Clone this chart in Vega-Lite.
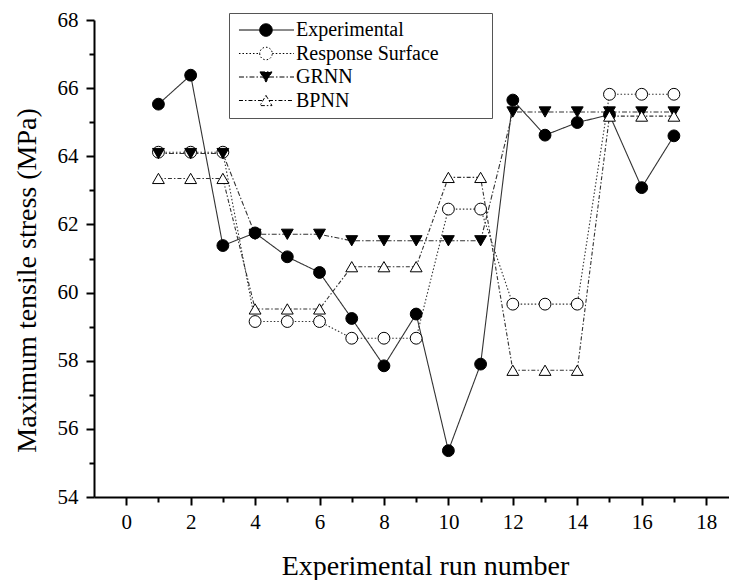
{
  "$schema": "https://vega.github.io/schema/vega-lite/v6.json",
  "width": 635,
  "height": 477,
  "autosize": {"type": "none"},
  "padding": {"left": 94, "top": 20, "right": 0, "bottom": 83},
  "background": "white",
  "config": {
    "view": {"stroke": null},
    "font": "Liberation Serif",
    "axis": {"grid": false, "domainColor": "black", "domainWidth": 2, "tickColor": "black", "labelColor": "black", "titleColor": "black", "titleFontWeight": "normal"}
  },
  "data": {"values": [
    {"run": 1, "series": "Experimental", "value": 65.53},
    {"run": 2, "series": "Experimental", "value": 66.38},
    {"run": 3, "series": "Experimental", "value": 61.38},
    {"run": 4, "series": "Experimental", "value": 61.75},
    {"run": 5, "series": "Experimental", "value": 61.05},
    {"run": 6, "series": "Experimental", "value": 60.59},
    {"run": 7, "series": "Experimental", "value": 59.24},
    {"run": 8, "series": "Experimental", "value": 57.85},
    {"run": 9, "series": "Experimental", "value": 59.37},
    {"run": 10, "series": "Experimental", "value": 55.36},
    {"run": 11, "series": "Experimental", "value": 57.9},
    {"run": 12, "series": "Experimental", "value": 65.65},
    {"run": 13, "series": "Experimental", "value": 64.62},
    {"run": 14, "series": "Experimental", "value": 64.99},
    {"run": 15, "series": "Experimental", "value": 65.22},
    {"run": 16, "series": "Experimental", "value": 63.08},
    {"run": 17, "series": "Experimental", "value": 64.6},
    {"run": 1, "series": "Response Surface", "value": 64.12},
    {"run": 2, "series": "Response Surface", "value": 64.12},
    {"run": 3, "series": "Response Surface", "value": 64.12},
    {"run": 4, "series": "Response Surface", "value": 59.15},
    {"run": 5, "series": "Response Surface", "value": 59.15},
    {"run": 6, "series": "Response Surface", "value": 59.15},
    {"run": 7, "series": "Response Surface", "value": 58.66},
    {"run": 8, "series": "Response Surface", "value": 58.66},
    {"run": 9, "series": "Response Surface", "value": 58.66},
    {"run": 10, "series": "Response Surface", "value": 62.45},
    {"run": 11, "series": "Response Surface", "value": 62.45},
    {"run": 12, "series": "Response Surface", "value": 59.66},
    {"run": 13, "series": "Response Surface", "value": 59.66},
    {"run": 14, "series": "Response Surface", "value": 59.66},
    {"run": 15, "series": "Response Surface", "value": 65.82},
    {"run": 16, "series": "Response Surface", "value": 65.82},
    {"run": 17, "series": "Response Surface", "value": 65.82},
    {"run": 1, "series": "GRNN", "value": 64.08},
    {"run": 2, "series": "GRNN", "value": 64.08},
    {"run": 3, "series": "GRNN", "value": 64.08},
    {"run": 4, "series": "GRNN", "value": 61.71},
    {"run": 5, "series": "GRNN", "value": 61.71},
    {"run": 6, "series": "GRNN", "value": 61.71},
    {"run": 7, "series": "GRNN", "value": 61.52},
    {"run": 8, "series": "GRNN", "value": 61.52},
    {"run": 9, "series": "GRNN", "value": 61.52},
    {"run": 10, "series": "GRNN", "value": 61.52},
    {"run": 11, "series": "GRNN", "value": 61.52},
    {"run": 12, "series": "GRNN", "value": 65.3},
    {"run": 13, "series": "GRNN", "value": 65.3},
    {"run": 14, "series": "GRNN", "value": 65.3},
    {"run": 15, "series": "GRNN", "value": 65.3},
    {"run": 16, "series": "GRNN", "value": 65.3},
    {"run": 17, "series": "GRNN", "value": 65.3},
    {"run": 1, "series": "BPNN", "value": 63.35},
    {"run": 2, "series": "BPNN", "value": 63.35},
    {"run": 3, "series": "BPNN", "value": 63.35},
    {"run": 4, "series": "BPNN", "value": 59.52},
    {"run": 5, "series": "BPNN", "value": 59.52},
    {"run": 6, "series": "BPNN", "value": 59.52},
    {"run": 7, "series": "BPNN", "value": 60.76},
    {"run": 8, "series": "BPNN", "value": 60.76},
    {"run": 9, "series": "BPNN", "value": 60.76},
    {"run": 10, "series": "BPNN", "value": 63.38},
    {"run": 11, "series": "BPNN", "value": 63.38},
    {"run": 12, "series": "BPNN", "value": 57.72},
    {"run": 13, "series": "BPNN", "value": 57.72},
    {"run": 14, "series": "BPNN", "value": 57.72},
    {"run": 15, "series": "BPNN", "value": 65.18},
    {"run": 16, "series": "BPNN", "value": 65.18},
    {"run": 17, "series": "BPNN", "value": 65.18}
  ]},
  "encoding": {
    "x": {"field": "run", "type": "quantitative", "scale": {"domain": [-1, 18.71], "nice": false, "zero": false},
      "axis": {"values": [0, 1, 2, 3, 4, 5, 6, 7, 8, 9, 10, 11, 12, 13, 14, 15, 16, 17, 18],
        "tickSize": {"condition": {"test": "datum.value % 2 === 0", "value": 8}, "value": 5}, "tickWidth": 2,
        "labelExpr": "datum.value % 2 === 0 ? datum.label : ''",
        "labelFont": "Liberation Serif", "titleFont": "Liberation Serif",
        "labelFontSize": 21, "labelPadding": 6, "labelFlush": false, "labelOverlap": false,
        "title": "Experimental run number", "titleFontSize": 28, "titleX": 331, "titleY": 55, "titleBaseline": "top"}},
    "y": {"field": "value", "type": "quantitative", "scale": {"domain": [54, 68], "nice": false, "zero": false},
      "axis": {"values": [54, 55, 56, 57, 58, 59, 60, 61, 62, 63, 64, 65, 66, 67, 68],
        "tickSize": {"condition": {"test": "datum.value % 2 === 0", "value": 8}, "value": 5}, "tickWidth": 2,
        "labelExpr": "datum.value % 2 === 0 ? datum.label : ''",
        "labelFont": "Liberation Serif", "titleFont": "Liberation Serif",
        "labelFontSize": 21, "labelPadding": 8, "labelFlush": false, "labelOverlap": false,
        "title": "Maximum tensile stress (MPa)", "titleFontSize": 28, "titleX": -53, "titleY": 260, "titleAngle": 270, "titleBaseline": "bottom"}}
  },
  "layer": [
    {
      "mark": {"type": "line", "stroke": "#333", "strokeWidth": 1.1},
      "encoding": {
        "detail": {"field": "series"},
        "strokeDash": {"field": "series", "type": "nominal", "legend": null,
          "scale": {"range": [[4, 2, 1.5, 2], [1, 0], [5, 2, 1.5, 2], [1.5, 2]]}}
      }
    },
    {
      "mark": {"type": "point", "filled": false, "stroke": "black", "strokeWidth": 1, "size": 140, "opacity": 1},
      "encoding": {
        "shape": {"field": "series", "type": "nominal", "legend": null,
          "scale": {"range": ["triangle-up", "circle", "triangle-down", "circle"]}},
        "fill": {"field": "series", "type": "nominal",
          "scale": {"domain": ["Experimental", "Response Surface", "GRNN", "BPNN"], "range": ["black", "white", "black", "white"]},
          "legend": {"title": null, "orient": "none", "legendX": 135, "legendY": -7, "padding": 7, "rowPadding": 3.5, "symbolSize": 144, "labelOffset": 40,
            "labelFontSize": 20, "labelFont": "Liberation Serif", "labelColor": "black", "strokeColor": "#555",
            "symbolStrokeColor": "black", "symbolStrokeWidth": 1, "symbolOpacity": 1,
            "encode": {
              "symbols": {"update": {
                "shape": {"signal": "(datum.value === 'GRNN') ? 'M-1.17,0L2.83,0M3.83,0L8,0M2.33,-0.85L4.33,-0.85L3.33,0.85ZM39.5,0' : (datum.value === 'BPNN') ? 'M-1.17,0L2.83,0M3.83,0L8,0M3.33,-0.85L4.33,0.85L2.33,0.85ZM39.5,0' : 'M-1.17,0L2.28,0M4.38,0L8,0M2.28,0A1.05,1.05,0,1,0,4.38,0A1.05,1.05,0,1,0,2.28,0ZM39.5,0'"},
                "strokeDash": {"signal": "(datum.value === 'Response Surface') ? [1.5,2] : (datum.value === 'GRNN') ? [5,2,1.5,2] : (datum.value === 'BPNN') ? [4,2,1.5,2] : [1,0]"},
                "stroke": {"value": "black"},
                "strokeWidth": {"value": 1},
                "size": {"value": 144},
                "opacity": {"value": 1}
              }}
            }}}
      }
    }
  ]
}
